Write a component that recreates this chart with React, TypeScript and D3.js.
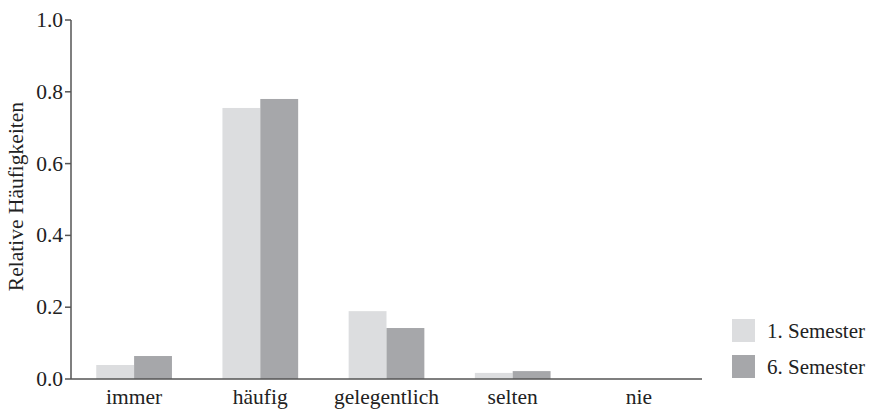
import React from "react";
import * as d3 from "d3";

const categories = ["immer", "häufig", "gelegentlich", "selten", "nie"];
const seriesNames = ["1. Semester", "6. Semester"];
const semester1 = [0.039, 0.755, 0.189, 0.017, 0];
const semester6 = [0.064, 0.78, 0.142, 0.022, 0];
const yTicks = [0, 0.2, 0.4, 0.6, 0.8, 1.0];
const colors = ["#dcdddf", "#a6a7aa"];

const W = 873;
const H = 411;
const left = 71;
const right = 702;
const top = 20;
const bottom = 379;
const FONT = "Liberation Serif, Times New Roman, serif";

export default function App() {
  const x = d3.scaleBand<string>().domain(categories).range([left, right]).paddingInner(0.4).paddingOuter(0.2);
  const inner = d3.scaleBand<string>().domain(seriesNames).range([0, x.bandwidth()]);
  const y = d3.scaleLinear().domain([0, 1]).range([bottom, top]);
  const series = [semester1, semester6];
  const axisColor = "#555";
  const ts = { fontFamily: FONT, fontSize: 21.5 };

  return (
    <svg
      width={W}
      height={H}
      fontFamily={FONT}
      style={{ position: "absolute", left: 0, top: 0, background: "#fff", fontFamily: FONT }}
    >
      <g>
        {series.map((vals, si) =>
          categories.map((c, i) => (
            <rect
              key={`${si}-${i}`}
              x={(x(c) as number) + (inner(seriesNames[si]) as number)}
              y={y(vals[i])}
              width={inner.bandwidth()}
              height={bottom - y(vals[i])}
              fill={colors[si]}
            />
          ))
        )}
      </g>
      <line x1={left} x2={left} y1={top} y2={bottom} stroke={axisColor} strokeWidth={1.5} />
      <line x1={left} x2={right} y1={bottom} y2={bottom} stroke={axisColor} strokeWidth={1.5} />
      {yTicks.map((t) => (
        <g key={t}>
          <line x1={left - 6} x2={left} y1={y(t)} y2={y(t)} stroke={axisColor} strokeWidth={1.5} />
          <text x={left - 8} y={y(t) + 7} textAnchor="end" style={ts} fill="#222">
            {t.toFixed(1)}
          </text>
        </g>
      ))}
      {categories.map((c) => (
        <text
          key={c}
          x={(x(c) as number) + x.bandwidth() / 2}
          y={bottom + 25}
          textAnchor="middle"
          style={ts}
          fill="#222"
        >
          {c}
        </text>
      ))}
      <text
        transform={`translate(23, ${(top + bottom) / 2 - 3}) rotate(-90)`}
        textAnchor="middle"
        style={ts}
        fill="#222"
      >
        Relative Häufigkeiten
      </text>
      {seriesNames.map((s, i) => (
        <g key={s} transform={`translate(732, ${319 + i * 36})`}>
          <rect x={0} y={0} width={23} height={23} fill={colors[i]} />
          <text x={35} y={19} style={{ ...ts, fontSize: 21 }} fill="#222">
            {s}
          </text>
        </g>
      ))}
    </svg>
  );
}
